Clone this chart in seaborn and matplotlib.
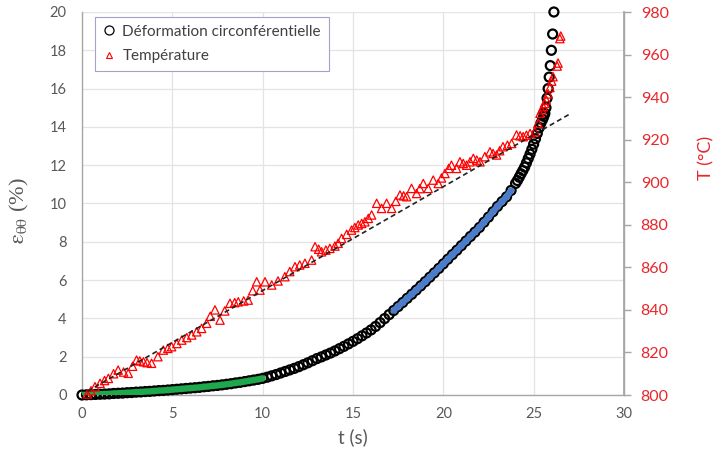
import numpy as np
import pandas as pd
import matplotlib
matplotlib.use("Agg")
import matplotlib.pyplot as plt
from matplotlib.lines import Line2D
import seaborn as sns

# ---------------- data ----------------
t_strain = [0.00, 0.25, 0.50, 0.75, 1.00, 1.25, 1.50, 1.75, 2.00, 2.25, 2.50, 2.75,
            3.00, 3.25, 3.50, 3.75, 4.00, 4.25, 4.50, 4.75, 5.00, 5.25, 5.50, 5.75,
            6.00, 6.25, 6.50, 6.75, 7.00, 7.25, 7.50, 7.75, 8.00, 8.25, 8.50, 8.75,
            9.00, 9.25, 9.50, 9.75, 10.00, 10.25, 10.50, 10.75, 11.00, 11.25, 11.50, 11.75,
            12.00, 12.25, 12.50, 12.75, 13.00, 13.25, 13.50, 13.75, 14.00, 14.25, 14.50, 14.75,
            15.00, 15.25, 15.50, 15.75, 16.00, 16.25, 16.50, 16.75, 17.00, 17.25, 17.50, 17.75,
            18.00, 18.25, 18.50, 18.75, 19.00, 19.25, 19.50, 19.75, 20.00, 20.25, 20.50, 20.75,
            21.00, 21.25, 21.50, 21.75, 22.00, 22.25, 22.50, 22.75, 23.00, 23.25, 23.50, 23.75,
            24.00, 24.10, 24.20, 24.30, 24.40, 24.50, 24.60, 24.70, 24.80, 24.90, 25.00, 25.10,
            25.20, 25.30, 25.40, 25.50, 25.56, 25.62, 25.68, 25.74, 25.80, 25.86, 25.92, 25.98,
            26.05, 26.12]
strain = [0.00, 0.01, 0.02, 0.03, 0.04, 0.05, 0.06, 0.08, 0.09, 0.10, 0.12, 0.13,
          0.15, 0.16, 0.18, 0.19, 0.21, 0.23, 0.24, 0.26, 0.28, 0.30, 0.32, 0.34,
          0.36, 0.38, 0.40, 0.43, 0.45, 0.48, 0.50, 0.53, 0.56, 0.59, 0.63, 0.66,
          0.70, 0.74, 0.78, 0.82, 0.87, 0.93, 1.00, 1.07, 1.15, 1.23, 1.31, 1.39,
          1.48, 1.58, 1.68, 1.79, 1.90, 1.99, 2.09, 2.19, 2.30, 2.42, 2.54, 2.67,
          2.80, 2.94, 3.09, 3.24, 3.40, 3.58, 3.78, 3.99, 4.20, 4.41, 4.62, 4.83,
          5.05, 5.26, 5.48, 5.70, 5.92, 6.15, 6.38, 6.61, 6.85, 7.09, 7.33, 7.56,
          7.80, 8.04, 8.28, 8.51, 8.75, 9.02, 9.29, 9.57, 9.85, 10.10, 10.35, 10.68,
          11.05, 11.20, 11.37, 11.55, 11.72, 11.90, 12.12, 12.35, 12.58, 12.83, 13.10, 13.38,
          13.66, 13.95, 14.20, 14.40, 14.55, 14.70, 15.00, 15.50, 16.00, 16.60, 17.20, 18.00,
          18.85, 20.00]

t_temp = [0.30, 0.50, 0.72, 1.00, 1.25, 1.46, 1.75, 2.00, 2.30, 2.56, 2.80, 3.02,
          3.20, 3.40, 3.60, 3.85, 4.20, 4.50, 4.75, 4.96, 5.25, 5.52, 5.80, 6.07,
          6.35, 6.62, 6.90, 7.10, 7.36, 7.64, 7.90, 8.19, 8.45, 8.65, 8.95, 9.20,
          9.45, 9.67, 9.85, 10.13, 10.50, 10.85, 11.23, 11.50, 11.79, 12.05, 12.34, 12.71,
          12.90, 13.10, 13.26, 13.50, 13.72, 14.00, 14.18, 14.37, 14.65, 14.92, 15.10, 15.29,
          15.48, 15.66, 15.85, 16.03, 16.31, 16.58, 16.86, 17.14, 17.37, 17.60, 17.80, 17.97,
          18.24, 18.52, 18.70, 18.89, 19.16, 19.44, 19.72, 19.90, 20.09, 20.30, 20.45, 20.73,
          20.92, 21.10, 21.29, 21.48, 21.66, 21.85, 22.03, 22.30, 22.58, 22.75, 22.95, 23.12,
          23.30, 23.55, 23.78, 24.05, 24.25, 24.42, 24.60, 24.80, 25.07, 25.25, 25.35, 25.45,
          25.53, 25.60, 25.70, 25.80, 25.90, 26.00, 26.07, 26.30, 26.35, 26.45, 26.50]
temp = [800.5, 802.0, 803.9, 805.5, 806.8, 807.8, 810.0, 811.7, 810.8, 810.2, 813.5, 816.4,
        816.0, 815.6, 815.2, 814.9, 818.0, 821.1, 821.9, 822.7, 824.2, 825.8, 827.0, 828.2,
        829.7, 831.3, 833.7, 837.0, 840.0, 835.2, 839.5, 843.1, 843.4, 843.8, 844.2, 844.6,
        849.0, 853.2, 849.3, 853.2, 851.7, 853.6, 855.6, 858.0, 860.3, 861.1, 861.9, 863.4,
        869.7, 868.5, 867.3, 868.1, 868.9, 870.0, 871.3, 873.6, 875.5, 877.5, 878.7, 879.9,
        880.6, 881.4, 883.0, 884.6, 890.1, 887.7, 890.1, 887.7, 891.0, 894.0, 893.6, 893.2,
        897.1, 894.7, 897.0, 899.4, 897.1, 901.0, 899.4, 902.0, 904.1, 906.5, 908.0, 906.5,
        909.6, 908.8, 908.0, 909.6, 911.2, 910.4, 909.6, 912.0, 914.3, 913.5, 912.8, 914.8,
        916.7, 917.4, 918.2, 922.2, 921.8, 921.4, 922.1, 922.9, 923.7, 927.7, 932.4, 934.0,
        935.5, 937.0, 938.6, 941.5, 944.5, 947.5, 949.6, 954.6, 956.0, 967.5, 968.7]

# linear trend of the temperature (dashed line)
trend_slope = 4.88      # °C / s
trend_intercept = 800.3  # °C
trend_t = [0.3, 27.0]

green_range = (0.0, 10.0)
blue_range = (17.25, 23.75)

x_ticks = [0, 5, 10, 15, 20, 25, 30]
y_ticks = [0, 2, 4, 6, 8, 10, 12, 14, 16, 18, 20]
t_ticks = [800, 820, 840, 860, 880, 900, 920, 940, 960, 980]

# ---------------- style ----------------
sns.set_theme(style="white")
plt.rcParams['font.family'] = ['Lato', 'DejaVu Sans']
plt.rcParams['mathtext.fontset'] = 'stix'

GRAY = '#595959'
RED = '#e8262b'
GRID = '#e3e3e3'
SPINE = '#a6a6a6'

df_s = pd.DataFrame({'t': t_strain, 'e': strain})
df_T = pd.DataFrame({'t': t_temp, 'T': temp})
df_g = df_s[(df_s.t >= green_range[0]) & (df_s.t <= green_range[1])]
df_b = df_s[(df_s.t >= blue_range[0]) & (df_s.t <= blue_range[1])]
tt = np.array(trend_t)
df_tr = pd.DataFrame({'t': tt, 'T': trend_intercept + trend_slope * tt})

fig = plt.figure(figsize=(7.2, 4.53), dpi=100)
ax = fig.add_axes([82/720, 1-395/453, (624-82)/720, (395-12)/453])

ax.set_xlim(0, 30)
ax.set_ylim(0, 20)
ax.set_xticks(x_ticks)
ax.set_yticks(y_ticks)
ax.grid(True, color=GRID, lw=0.9)
ax.set_axisbelow(True)

sns.scatterplot(data=df_s, x='t', y='e', ax=ax, marker='o', s=42,
                facecolors='none', edgecolors='black', linewidth=1.6,
                clip_on=False, legend=False)
n_lines_before = len(ax.lines)
sns.lineplot(data=df_g, x='t', y='e', ax=ax, color='#1ea84c', linewidth=4.6,
             estimator=None, sort=False, legend=False)
sns.lineplot(data=df_b, x='t', y='e', ax=ax, color='#4a7cc9', linewidth=4.6,
             estimator=None, sort=False, legend=False)
for coll in ax.collections:
    coll.set_zorder(3)
for ln in ax.lines[n_lines_before:]:
    ln.set_zorder(4)
    ln.set_linewidth(4.6)
    ln.set_solid_capstyle('round')

ax.spines['top'].set_visible(False)
for s in ['left', 'bottom', 'right']:
    ax.spines[s].set_color(SPINE)
    ax.spines[s].set_linewidth(1.0)

ax.tick_params(axis='both', which='both', length=0, colors=GRAY, labelsize=10.5)
ax.tick_params(axis='y', pad=11)
ax.tick_params(axis='x', pad=9)
ax.set_xlabel('t (s)', color=GRAY, fontsize=13.5, labelpad=5)
ax.set_ylabel(r'$\mathrm{\varepsilon}_{\mathrm{\theta\theta}}$ (%)', color=GRAY,
              fontsize=16, family=['Liberation Serif', 'DejaVu Serif'])
ax.yaxis.set_label_coords(-0.095, 0.48)

ax2 = ax.twinx()
ax2.set_ylim(800, 980)
ax2.set_yticks(t_ticks)
sns.scatterplot(data=df_T, x='t', y='T', ax=ax2, marker='^', s=36,
                facecolors='none', edgecolors='#ff0000', linewidth=0.9,
                clip_on=False, legend=False)
sns.lineplot(data=df_tr, x='t', y='T', ax=ax2, color='#222222', linewidth=1.2,
             estimator=None, sort=False, legend=False)
for ln in ax2.lines:
    ln.set_linestyle((0, (3, 2)))
    ln.set_zorder(6)
for coll in ax2.collections:
    coll.set_zorder(5)
for s in ['top', 'left', 'bottom']:
    ax2.spines[s].set_visible(False)
ax2.spines['right'].set_color(SPINE)
ax2.tick_params(axis='y', length=5, width=1, colors=RED,
                labelsize=11.5, pad=7, direction='out')
ax2.tick_params(axis='y', color=SPINE)
ax2.set_ylabel('T (°C)', color=RED, fontsize=13, rotation=90)
ax2.yaxis.set_label_coords(1.138, 0.62)
ax2.set_xlabel('')
ax.set_xlim(0, 30)

handles = [Line2D([], [], marker='o', ls='none', mfc='none', mec='black',
                  ms=6.5, mew=0.9),
           Line2D([], [], marker='^', ls='none', mfc='none', mec='#ff0000',
                  ms=5, mew=0.8)]
leg = ax2.legend(handles, ['Déformation circonférentielle', 'Température'],
                 loc='upper left', bbox_to_anchor=((95-82)/542, (395-17)/383),
                 borderaxespad=0, frameon=True, fancybox=False, framealpha=1,
                 edgecolor='#a99fc9', fontsize=11, handlelength=0.8,
                 handletextpad=0.5, labelspacing=0.7, borderpad=0.5)
leg.get_frame().set_linewidth(0.8)
for txt in leg.get_texts():
    txt.set_color('#404040')

fig.savefig('out.png', dpi=100)
